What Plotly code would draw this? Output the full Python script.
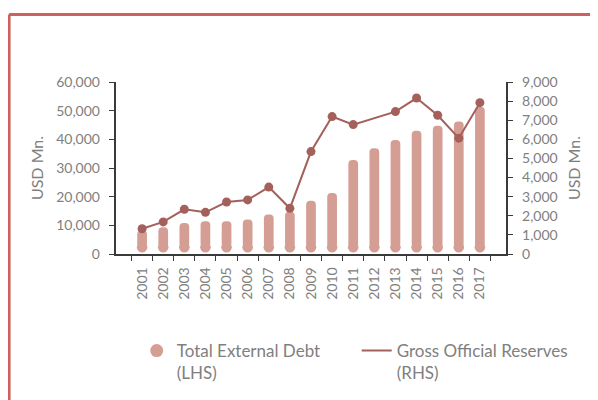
import plotly.graph_objects as go

years = ["2001", "2002", "2003", "2004", "2005", "2006", "2007", "2008", "2009",
         "2010", "2011", "2012", "2013", "2014", "2015", "2016", "2017"]
external_debt = [8200, 9300, 10850, 11400, 11400, 12000, 13800, 14750, 18600,
                 21300, 32800, 36900, 39800, 43000, 44700, 46200, 51400]
official_reserves = [1320, 1680, 2340, 2180, 2720, 2830, 3500, 2390, 5360,
                     7190, 6770, None, 7450, 8160, 7260, 6060, 7920]

LHS_MAX = 60000
RHS_MAX = 9000

BAR = "#d59e94"
LINE = "#a4605b"
GREY = "#808080"
AX = "#3a3a3a"
FONT = "Lato"

# figure is offset by the page's 8px body margin
W, H = 590, 392
L, R, T, B = 107.7, 92, 74, 145.5
pw, ph = W - L - R, H - T - B

BAR_WIDTH = 0.46  # fraction of a category slot
bar_px = BAR_WIDTH * pw / len(years)
# bottom cap: a round marker whose centre is one radius (+ a small gap) above the baseline
cap_offset = (bar_px / 2 + 1.5) * LHS_MAX / ph

fig = go.Figure()

bar_base = [cap_offset] * len(years)
bar_len = [v - cap_offset for v in external_debt]
fig.add_trace(go.Bar(x=years, y=bar_len, base=bar_base, width=BAR_WIDTH,
                     marker=dict(color=BAR, cornerradius="50%", line=dict(width=0)),
                     showlegend=False, name="Total External Debt (LHS)"))
fig.add_trace(go.Scatter(x=years, y=bar_base, mode="markers",
                         marker=dict(symbol="circle", size=bar_px, color=BAR,
                                     line=dict(width=0)),
                         showlegend=False, hoverinfo="skip"))
# legend entries
fig.add_trace(go.Scatter(x=[None], y=[None], mode="markers",
                         marker=dict(symbol="circle", size=13, color=BAR),
                         name="Total External Debt<br>(LHS)", legend="legend"))
fig.add_trace(go.Scatter(x=[None], y=[None], yaxis="y3", mode="lines",
                         line=dict(color=LINE, width=2),
                         name="Gross Official Reserves<br>(RHS)", legend="legend2"))
fig.add_trace(go.Scatter(x=years, y=official_reserves, yaxis="y3", mode="lines+markers",
                         connectgaps=True,
                         line=dict(color=LINE, width=2),
                         marker=dict(color=LINE, size=9),
                         showlegend=False, name="Gross Official Reserves (RHS)"))


def px(xp):
    return (xp - L) / pw


def py(yp):
    return 1 - (yp - T) / ph


axis_common = dict(ticks="outside", ticklen=5.5, tickcolor=AX, showline=True,
                   linecolor=AX, linewidth=1.5, showgrid=False, zeroline=False,
                   automargin=False, ticklabelstandoff=6,
                   tickfont=dict(size=14, color=GREY))

legend_common = dict(orientation="h", xref="container", yref="container",
                     xanchor="left", yanchor="top", valign="top",
                     font=dict(size=17, color=GREY), bgcolor="rgba(0,0,0,0)")

fig.update_layout(
    width=W, height=H,
    margin=dict(l=L, r=R, t=T, b=B, pad=0, autoexpand=False),
    paper_bgcolor="white", plot_bgcolor="white",
    barmode="overlay",
    font=dict(family=FONT, color=GREY, size=14),
    xaxis=dict(type="category", tickangle=-90, tickson="boundaries", **axis_common),
    yaxis=dict(range=[0, LHS_MAX], dtick=10000, tickformat=",",
               title=dict(text="USD Mn.", font=dict(size=16, color=GREY), standoff=9),
               **axis_common),
    yaxis3=dict(range=[0, RHS_MAX], dtick=1000, tickformat=",", overlaying="y",
                side="right",
                title=dict(text="USD Mn.", font=dict(size=16, color=GREY), standoff=12),
                **axis_common),
    legend=dict(x=128.7 / W, y=1 - 325 / H, **legend_common),
    legend2=dict(x=348.7 / W, y=1 - 325 / H, **legend_common),
    shapes=[
        dict(type="line", xref="paper", yref="paper",
             x0=px(0.7), x1=px(600), y0=py(6.3), y1=py(6.3),
             line=dict(color="#cc625e", width=3)),
        dict(type="line", xref="paper", yref="paper",
             x0=px(0.7), x1=px(0.7), y0=py(6.3), y1=py(400),
             line=dict(color="#cc625e", width=3)),
    ],
)

fig.write_html("out.html")
